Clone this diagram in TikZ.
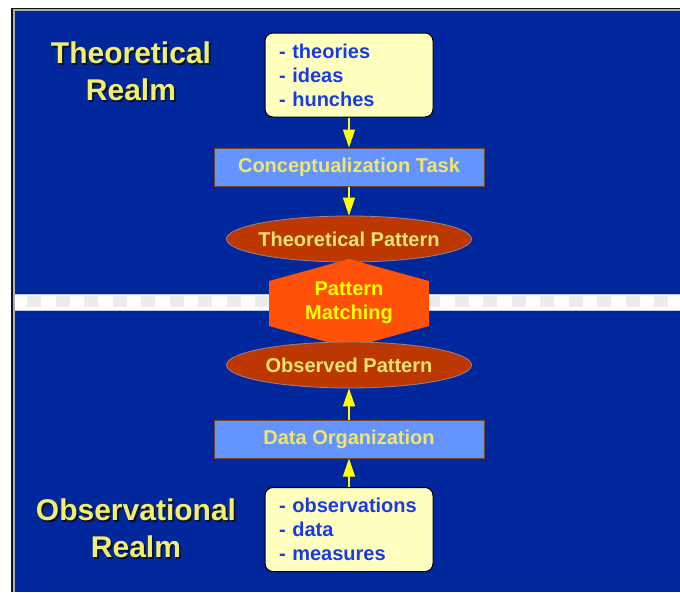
\documentclass[tikz,border=0pt]{standalone}
\usepackage{fontspec}
\setmainfont{Liberation Sans}
\usetikzlibrary{shapes.geometric,arrows.meta}

% dark drop shadow behind the realm titles
\newcommand\shadowed[1]{\leavevmode\rlap{\kern1.6pt\raisebox{-1.6pt}{\textcolor{realmshadow}{#1}}}#1}

\begin{document}
\begin{tikzpicture}[x=1pt, y=-1pt,
    realm/.style={text=realmtext, font=\fontsize{30}{37}\selectfont\bfseries, align=center},
    listbox/.style={draw=black, line width=1pt, fill=notefill, rounded corners=8pt, text=listtext,
        font=\fontsize{20}{24}\selectfont\bfseries, text width=140pt, align=left,
        inner xsep=14pt, minimum height=84pt},
    taskbox/.style={draw=taskedge, line width=1pt, fill=taskfill, text=tasktext,
        font=\fontsize{20}{24}\selectfont\bfseries, minimum width=270pt, minimum height=38pt},
    patternbox/.style={ellipse, draw=patternedge, line width=0.8pt, fill=patternfill, text=tasktext,
        font=\fontsize{20}{24}\selectfont\bfseries, minimum width=245pt, minimum height=46pt,
        inner xsep=-20pt, inner ysep=0pt},
    flow/.style={draw=arrowc, line width=1.2pt, -{Triangle[width=12pt,length=18pt]}}]
    % Colours
    \definecolor{bgblue}{RGB}{0,40,156}
    \definecolor{framec}{RGB}{20,20,20}
    \definecolor{frameinner}{RGB}{170,175,190}
    \definecolor{realmtext}{RGB}{240,240,110}
    \definecolor{realmshadow}{RGB}{15,15,25}
    \definecolor{notefill}{RGB}{255,255,192}
    \definecolor{listtext}{RGB}{25,60,225}
    \definecolor{taskfill}{RGB}{100,148,255}
    \definecolor{taskedge}{RGB}{110,70,40}
    \definecolor{tasktext}{RGB}{240,230,110}
    \definecolor{patternfill}{RGB}{188,56,0}
    \definecolor{patternedge}{RGB}{150,130,140}
    \definecolor{matchfill}{RGB}{255,82,8}
    \definecolor{arrowc}{RGB}{255,255,0}
    \definecolor{checkc}{RGB}{236,236,236}
    \definecolor{stripeedge}{RGB}{180,195,235}

    \useasboundingbox (0,0) rectangle (680,592);

    % Slide background with its frame
    \fill[white] (0,0) rectangle (680,592);
    \fill[framec] (11,8) rectangle (680,592);
    \fill[frameinner] (13.3,9.4) rectangle (680,592);
    \fill[bgblue] (14.6,10.5) rectangle (680,592);

    % Border between the two realms
    \fill[white] (14.6,294) rectangle (680,310);
    \foreach \x in {27,55.5,...,670}
        \fill[checkc] (\x,296) rectangle +(14,11);
    \draw[stripeedge, line width=0.8pt] (14.6,294) -- (680,294);
    \draw[stripeedge, line width=0.8pt] (14.6,310) -- (680,310);

    % Realm titles
    \node[realm] (theorealm) at (131,72) {\shadowed{Theoretical}\\\shadowed{Realm}};
    \node[realm] (obsrealm) at (136,529) {\shadowed{Observational}\\\shadowed{Realm}};

    % Theoretical side
    \node[listbox] (theories) at (349,75) {- theories\\- ideas\\- hunches};
    \node[taskbox] (concept) at (349,167) {Conceptualization Task};
    \node[patternbox] (theopat) at (349,239) {Theoretical Pattern};

    % Pattern matching hexagon
    \fill[matchfill] (349,259) -- (429,281) -- (429,326) -- (349,348)
        -- (269,326) -- (269,281) -- cycle;
    \node[text=arrowc, font=\fontsize{20}{24}\selectfont\bfseries, align=center] (match)
        at (349,303) {Pattern\\Matching};

    % Observational side
    \node[patternbox] (obspat) at (349,365) {Observed Pattern};
    \node[taskbox] (dataorg) at (349,439) {Data Organization};
    \node[listbox] (observations) at (349,529.5) {- observations\\- data\\- measures};

    % Arrows
    \draw[flow] (theories.south) -- (concept.north);
    \draw[flow] (concept.south) -- (theopat.north);
    \draw[flow] (observations.north) -- (dataorg.south);
    \draw[flow] (dataorg.north) -- (obspat.south);
\end{tikzpicture}
\end{document}
